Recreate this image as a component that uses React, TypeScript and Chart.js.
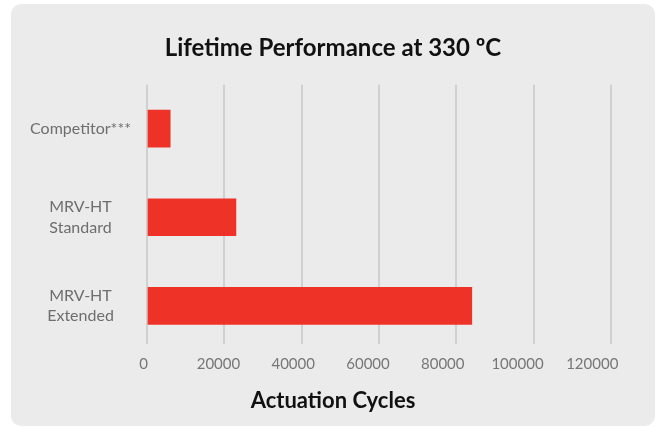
import React, { useEffect, useRef } from "react";
import { Chart, registerables } from "chart.js";

Chart.register(...registerables);

// ---- data ----
const categories: string[][] = [["Competitor***"], ["MRV-HT", "Standard"], ["MRV-HT", "Extended"]];
const cycles: number[] = [6000, 23000, 84000];
const xTicks: number[] = [0, 20000, 40000, 60000, 80000, 100000, 120000];
const titleText = "Lifetime Performance at 330 ºC";
const axisTitle = "Actuation Cycles";

export default function App() {
  const ref = useRef<HTMLCanvasElement | null>(null);

  useEffect(() => {
    if (!ref.current) return;
    const chart = new Chart(ref.current, {
      type: "bar",
      data: {
        datasets: [
          {
            data: cycles.map((v, i) => ({ x: v, y: i })),
            backgroundColor: "#ef3227",
            borderWidth: 0,
            barThickness: 37,
          },
        ],
      },
      options: {
        animation: false,
        responsive: false,
        indexAxis: "y",
        layout: { padding: 0 },
        plugins: {
          legend: { display: false },
          tooltip: { enabled: false },
          title: {
            display: true,
            text: titleText,
            color: "#111111",
            font: { family: "Lato", size: 24, weight: "bold" },
            padding: { top: 30, bottom: 22 },
          },
          subtitle: {
            display: true,
            position: "bottom",
            text: axisTitle,
            color: "#111111",
            font: { family: "Lato", size: 22, weight: "bold" },
            padding: { top: 2, bottom: 12 },
          },
        },
        scales: {
          y: {
            type: "linear",
            position: "left",
            reverse: true,
            offset: false,
            min: -0.494,
            max: 2.426,
            afterBuildTicks: (axis: any) => {
              axis.ticks = categories.map((_, i) => ({ value: i }));
            },
            afterFit: (axis: any) => {
              axis.width = 136;
            },
            grid: { display: false, drawTicks: false },
            border: { display: false },
            ticks: {
              crossAlign: "center",
              padding: 16,
              color: "#6e6e6e",
              font: { family: "Lato", size: 16, lineHeight: 1.3 },
              callback: (value: any) => categories[value as number],
            },
          },
          yRight: {
            type: "linear",
            position: "right",
            display: true,
            afterFit: (axis: any) => {
              axis.width = 44;
            },
            grid: { display: false, drawTicks: false },
            border: { display: false },
            ticks: { display: false },
          },
          x: {
            type: "linear",
            position: "bottom",
            min: 0,
            max: 120000,
            afterBuildTicks: (axis: any) => {
              axis.ticks = xTicks.map((v) => ({ value: v }));
            },
            grid: { color: "#d0d0d0", lineWidth: 2, drawTicks: false },
            border: { display: false },
            ticks: { display: false },
          },
          x2: {
            type: "linear",
            position: "bottom",
            min: 883,
            max: 125013,
            afterBuildTicks: (axis: any) => {
              axis.ticks = xTicks.map((v) => ({ value: v }));
            },
            grid: { display: false, drawTicks: false },
            border: { display: false },
            ticks: {
              autoSkip: false,
              maxRotation: 0,
              padding: 12,
              color: "#777777",
              font: { family: "Lato", size: 15 },
              callback: (value: any) => String(value),
            },
          },
        },
      },
    });
    return () => chart.destroy();
  }, []);

  return (
    <div
      style={{
        position: "absolute",
        left: 11,
        top: 4,
        width: 644,
        height: 422,
        borderRadius: 10,
        background: "#ebebeb",
        overflow: "hidden",
      }}
    >
      <canvas ref={ref} width={644} height={422} style={{ display: "block" }} />
    </div>
  );
}
